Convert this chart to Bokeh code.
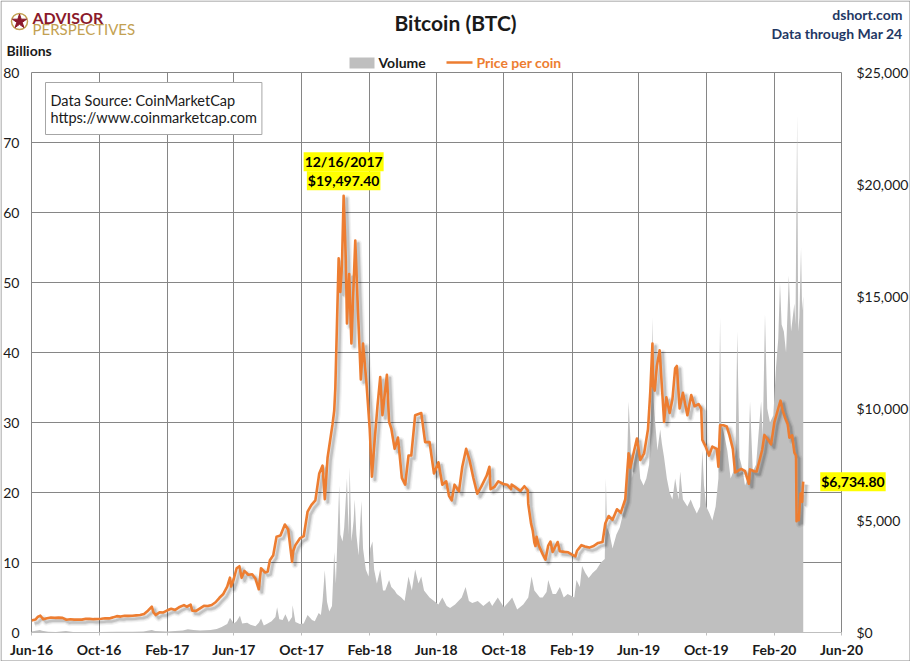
from datetime import timedelta
import pandas as pd
from bokeh.plotting import figure
from bokeh.layouts import column
from bokeh.models import (Range1d, LinearAxis, FixedTicker, NumeralTickFormatter, Label)
from bokeh.embed import file_html
from bokeh.resources import INLINE

# ---------------- data ----------------
price_dates = [
    "2016-06-01", "2016-06-08", "2016-06-12", "2016-06-17", "2016-06-22", "2016-06-29", "2016-07-06",
    "2016-07-13", "2016-07-20", "2016-07-27", "2016-08-03", "2016-08-10", "2016-08-17", "2016-08-24",
    "2016-08-31", "2016-09-07", "2016-09-14", "2016-09-21", "2016-09-28", "2016-10-05", "2016-10-12",
    "2016-10-19", "2016-10-26", "2016-11-02", "2016-11-09", "2016-11-16", "2016-11-23", "2016-11-30",
    "2016-12-07", "2016-12-14", "2016-12-21", "2016-12-28", "2017-01-04", "2017-01-07", "2017-01-11",
    "2017-01-18", "2017-01-25", "2017-02-01", "2017-02-08", "2017-02-15", "2017-02-22", "2017-03-03",
    "2017-03-08", "2017-03-15", "2017-03-18", "2017-03-25", "2017-04-01", "2017-04-08", "2017-04-15",
    "2017-04-22", "2017-04-29", "2017-05-06", "2017-05-13", "2017-05-20", "2017-05-25", "2017-05-27",
    "2017-06-01", "2017-06-06", "2017-06-11", "2017-06-15", "2017-06-20", "2017-06-27", "2017-07-04",
    "2017-07-10", "2017-07-16", "2017-07-20", "2017-07-27", "2017-08-01", "2017-08-05", "2017-08-11",
    "2017-08-17", "2017-08-24", "2017-09-01", "2017-09-07", "2017-09-14", "2017-09-16", "2017-09-20",
    "2017-09-28", "2017-10-05", "2017-10-12", "2017-10-19", "2017-10-26", "2017-11-02", "2017-11-08",
    "2017-11-12", "2017-11-17", "2017-11-26", "2017-11-29", "2017-12-01", "2017-12-07", "2017-12-10",
    "2017-12-13", "2017-12-16", "2017-12-20", "2017-12-22", "2017-12-26", "2017-12-30", "2018-01-06",
    "2018-01-10", "2018-01-16", "2018-01-20", "2018-01-26", "2018-02-01", "2018-02-05", "2018-02-10",
    "2018-02-15", "2018-02-20", "2018-02-24", "2018-03-04", "2018-03-08", "2018-03-12", "2018-03-18",
    "2018-03-24", "2018-03-31", "2018-04-06", "2018-04-12", "2018-04-17", "2018-04-24", "2018-05-05",
    "2018-05-12", "2018-05-20", "2018-05-28", "2018-06-05", "2018-06-12", "2018-06-19", "2018-06-24",
    "2018-06-29", "2018-07-04", "2018-07-12", "2018-07-18", "2018-07-25", "2018-07-31", "2018-08-07",
    "2018-08-14", "2018-08-21", "2018-08-31", "2018-09-05", "2018-09-07", "2018-09-14", "2018-09-21",
    "2018-09-30", "2018-10-07", "2018-10-14", "2018-10-15", "2018-10-21", "2018-10-31", "2018-11-07",
    "2018-11-13", "2018-11-14", "2018-11-19", "2018-11-22", "2018-11-25", "2018-11-27", "2018-11-29",
    "2018-12-03", "2018-12-10", "2018-12-15", "2018-12-20", "2018-12-24", "2018-12-28", "2019-01-06",
    "2019-01-10", "2019-01-18", "2019-01-25", "2019-02-01", "2019-02-07", "2019-02-10", "2019-02-18",
    "2019-02-24", "2019-03-04", "2019-03-12", "2019-03-20", "2019-03-28", "2019-04-02", "2019-04-08",
    "2019-04-15", "2019-04-23", "2019-04-30", "2019-05-08", "2019-05-11", "2019-05-14", "2019-05-17",
    "2019-05-22", "2019-05-29", "2019-06-04", "2019-06-11", "2019-06-18", "2019-06-22", "2019-06-26",
    "2019-06-27", "2019-06-30", "2019-07-04", "2019-07-09", "2019-07-15", "2019-07-17", "2019-07-21",
    "2019-07-27", "2019-08-01", "2019-08-06", "2019-08-09", "2019-08-14", "2019-08-20", "2019-08-28",
    "2019-09-04", "2019-09-10", "2019-09-17", "2019-09-22", "2019-09-24", "2019-09-30", "2019-10-06",
    "2019-10-12", "2019-10-20", "2019-10-23", "2019-10-25", "2019-10-26", "2019-11-01", "2019-11-07",
    "2019-11-12", "2019-11-18", "2019-11-22", "2019-11-26", "2019-12-03", "2019-12-10", "2019-12-17",
    "2019-12-19", "2019-12-26", "2019-12-31", "2020-01-06", "2020-01-10", "2020-01-14", "2020-01-20",
    "2020-01-26", "2020-02-01", "2020-02-09", "2020-02-12", "2020-02-16", "2020-02-20", "2020-02-25",
    "2020-02-28", "2020-03-04", "2020-03-08", "2020-03-11", "2020-03-12", "2020-03-14", "2020-03-16",
    "2020-03-19", "2020-03-20", "2020-03-22", "2020-03-23", "2020-03-24",
]
price_values = [
    536, 580, 690, 750, 595, 640, 670,
    655, 665, 655, 570, 590, 575, 580,
    575, 610, 610, 595, 605, 612, 638,
    630, 675, 730, 710, 745, 740, 745,
    765, 780, 830, 975, 1150, 900, 780,
    900, 895, 990, 1060, 1010, 1125, 1220,
    1150, 1245, 970, 965, 1080, 1190, 1180,
    1230, 1350, 1550, 1720, 2050, 2450, 2050,
    2400, 2870, 2960, 2440, 2750, 2580, 2600,
    2400, 1930, 2870, 2680, 2720, 3230, 3450,
    4280, 4330, 4820, 4600, 3150, 3640, 3900,
    4200, 4300, 5400, 5700, 5900, 7100, 7450,
    5950, 7800, 9300, 9900, 10900, 16700, 15200,
    16400, 19497.4, 16600, 13800, 16000, 12900, 17500,
    14900, 11300, 12900, 11200, 9100, 6955, 8600,
    10100, 11400, 9700, 11500, 9400, 9100, 8200,
    8700, 6900, 6600, 7900, 7900, 9700, 9800,
    8500, 8500, 7100, 7600, 6600, 6750, 6100,
    5900, 6600, 6300, 7400, 8200, 7700, 6900,
    6200, 6500, 7000, 7400, 6400, 6500, 6750,
    6630, 6600, 6400, 6600, 6500, 6320, 6530,
    6350, 5740, 4870, 4560, 4010, 3860, 4270,
    3880, 3500, 3250, 3880, 4060, 3600, 4040,
    3630, 3600, 3580, 3480, 3400, 3650, 3900,
    3840, 3790, 3860, 4000, 4040, 4880, 5200,
    5030, 5500, 5350, 5950, 7000, 8000, 7350,
    7900, 8660, 7700, 8000, 9080, 10700, 12900,
    11000, 10800, 11900, 12600, 10200, 9400, 10500,
    9800, 10400, 11800, 11900, 10000, 10700, 9700,
    10600, 10100, 10200, 10000, 8600, 8300, 7900,
    8300, 8200, 7400, 8700, 9250, 9250, 9200,
    8800, 8200, 7150, 7200, 7300, 7200, 6640,
    7280, 7200, 7190, 7760, 8160, 8820, 8630,
    8400, 9390, 10100, 10350, 9900, 9600, 9300,
    8700, 8800, 8030, 7900, 4970, 5200, 5010,
    6200, 6200, 5830, 6420, 6734.8,
]

vol_dates = [
    "2016-06-01", "2016-06-16", "2016-06-20", "2016-07-01", "2016-07-15", "2016-08-02", "2016-08-15",
    "2016-09-01", "2016-10-01", "2016-11-01", "2016-12-01", "2016-12-20", "2017-01-04", "2017-01-10",
    "2017-02-01", "2017-03-01", "2017-03-10", "2017-03-20", "2017-04-01", "2017-04-20", "2017-05-01",
    "2017-05-10", "2017-05-20", "2017-05-25", "2017-06-01", "2017-06-06", "2017-06-12", "2017-06-16",
    "2017-06-25", "2017-07-01", "2017-07-10", "2017-07-16", "2017-07-20", "2017-07-25", "2017-08-01",
    "2017-08-08", "2017-08-15", "2017-08-18", "2017-08-22", "2017-08-28", "2017-09-02", "2017-09-08",
    "2017-09-14", "2017-09-15", "2017-09-20", "2017-09-28", "2017-10-05", "2017-10-12", "2017-10-20",
    "2017-10-25", "2017-11-01", "2017-11-05", "2017-11-08", "2017-11-12", "2017-11-16", "2017-11-20",
    "2017-11-25", "2017-11-29", "2017-12-02", "2017-12-08", "2017-12-10", "2017-12-14", "2017-12-17",
    "2017-12-22", "2017-12-25", "2017-12-27", "2017-12-30", "2018-01-03", "2018-01-05", "2018-01-08",
    "2018-01-12", "2018-01-17", "2018-01-20", "2018-01-25", "2018-01-30", "2018-02-02", "2018-02-06",
    "2018-02-09", "2018-02-14", "2018-02-20", "2018-02-25", "2018-03-01", "2018-03-08", "2018-03-12",
    "2018-03-18", "2018-03-22", "2018-03-30", "2018-04-05", "2018-04-12", "2018-04-18", "2018-04-24",
    "2018-04-30", "2018-05-05", "2018-05-10", "2018-05-20", "2018-05-28", "2018-06-05", "2018-06-12",
    "2018-06-20", "2018-06-26", "2018-07-05", "2018-07-17", "2018-07-24", "2018-07-30", "2018-08-05",
    "2018-08-15", "2018-08-25", "2018-09-05", "2018-09-10", "2018-09-20", "2018-10-01", "2018-10-11",
    "2018-10-16", "2018-10-25", "2018-11-05", "2018-11-14", "2018-11-20", "2018-11-25", "2018-11-30",
    "2018-12-05", "2018-12-10", "2018-12-17", "2018-12-20", "2018-12-28", "2019-01-03", "2019-01-10",
    "2019-01-17", "2019-01-24", "2019-01-31", "2019-02-05", "2019-02-09", "2019-02-15", "2019-02-19",
    "2019-02-25", "2019-03-03", "2019-03-10", "2019-03-17", "2019-03-25", "2019-04-01", "2019-04-03",
    "2019-04-05", "2019-04-10", "2019-04-15", "2019-04-22", "2019-04-28", "2019-05-04", "2019-05-10",
    "2019-05-14", "2019-05-17", "2019-05-20", "2019-05-25", "2019-05-30", "2019-06-04", "2019-06-10",
    "2019-06-15", "2019-06-20", "2019-06-23", "2019-06-26", "2019-06-28", "2019-07-01", "2019-07-05",
    "2019-07-10", "2019-07-13", "2019-07-17", "2019-07-22", "2019-07-27", "2019-08-01", "2019-08-06",
    "2019-08-12", "2019-08-15", "2019-08-20", "2019-08-28", "2019-09-03", "2019-09-08", "2019-09-14",
    "2019-09-20", "2019-09-24", "2019-09-27", "2019-10-01", "2019-10-07", "2019-10-12", "2019-10-18",
    "2019-10-23", "2019-10-26", "2019-10-28", "2019-11-03", "2019-11-08", "2019-11-14", "2019-11-19",
    "2019-11-23", "2019-11-26", "2019-11-30", "2019-12-05", "2019-12-10", "2019-12-15", "2019-12-19",
    "2019-12-24", "2019-12-30", "2020-01-03", "2020-01-08", "2020-01-11", "2020-01-15", "2020-01-19",
    "2020-01-24", "2020-01-30", "2020-02-04", "2020-02-08", "2020-02-11", "2020-02-14", "2020-02-18",
    "2020-02-22", "2020-02-27", "2020-03-02", "2020-03-08", "2020-03-10", "2020-03-13", "2020-03-15",
    "2020-03-17", "2020-03-20", "2020-03-22", "2020-03-24",
]
vol_values = [
    0.15, 0.35, 0.25, 0.10, 0.08, 0.20, 0.07,
    0.07, 0.06, 0.10, 0.10, 0.15, 0.35, 0.20,
    0.15, 0.30, 0.45, 0.35, 0.30, 0.35, 0.50,
    0.80, 1.2, 2.1, 1.3, 1.6, 2.4, 1.3,
    1.4, 1.1, 0.9, 1.4, 2.0, 1.0, 1.3,
    1.6, 2.2, 3.6, 1.9, 1.8, 2.6, 1.5,
    2.2, 3.9, 1.5, 1.2, 1.3, 2.5, 1.8,
    1.6, 2.8, 2.5, 4.5, 8.9, 4.4, 3.0,
    3.8, 11.5, 7.0, 21.0, 14.0, 13.0, 15.0,
    22.0, 14.0, 23.6, 13.0, 16.0, 19.0, 14.0,
    11.0, 18.8, 12.0, 9.0, 8.0, 12.0, 13.0,
    9.0, 7.0, 9.0, 6.0, 6.0, 7.5, 6.5,
    6.0, 5.5, 5.0, 4.5, 8.0, 6.0, 9.0,
    7.0, 8.0, 6.0, 5.0, 4.5, 4.0, 5.0,
    3.8, 3.5, 4.0, 5.0, 6.5, 4.5, 4.2,
    4.5, 3.8, 4.5, 3.8, 5.0, 3.6, 4.5,
    5.0, 3.3, 4.0, 5.0, 8.0, 6.0, 5.5,
    5.0, 5.0, 5.8, 7.5, 5.5, 5.5, 6.5,
    5.0, 5.5, 5.2, 5.0, 7.5, 6.5, 9.5,
    8.5, 7.8, 8.5, 9.0, 10.0, 10.5, 22.0,
    15.0, 14.0, 12.0, 14.0, 15.0, 17.0, 20.0,
    33.0, 28.0, 22.0, 25.0, 27.0, 22.0, 21.0,
    22.0, 24.0, 30.0, 45.0, 33.0, 30.0, 26.0,
    29.0, 27.0, 25.0, 22.0, 20.0, 19.0, 22.0,
    19.0, 23.0, 19.0, 18.0, 19.0, 18.0, 17.0,
    18.0, 26.0, 21.0, 18.0, 17.0, 16.0, 18.0,
    22.0, 45.0, 30.0, 28.0, 26.0, 22.0, 23.0,
    26.0, 43.0, 25.0, 23.5, 21.0, 22.0, 33.0,
    23.0, 24.0, 28.0, 33.0, 28.0, 45.5, 32.0,
    30.0, 31.0, 38.0, 42.0, 50.0, 44.0, 43.0,
    40.0, 51.0, 43.0, 47.0, 44.0, 74.0, 43.0,
    45.0, 55.0, 46.0, 48.0,
]

tick_dates = ["2016-06-01", "2016-10-01", "2017-02-01", "2017-06-01", "2017-10-01", "2018-02-01",
              "2018-06-01", "2018-10-01", "2019-02-01", "2019-06-01", "2019-10-01", "2020-02-01",
              "2020-06-01"]
tick_labels = ["Jun-16", "Oct-16", "Feb-17", "Jun-17", "Oct-17", "Feb-18", "Jun-18", "Oct-18",
               "Feb-19", "Jun-19", "Oct-19", "Feb-20", "Jun-20"]
vol_ticks = [0, 10, 20, 30, 40, 50, 60, 70, 80]
price_ticks = [0, 5000, 10000, 15000, 20000, 25000]

peak_date, peak_price = "2017-12-16", 19497.40
peak_label = "12/16/2017"
series_names = ["Volume", "Price per coin"]

# ---------------- geometry (figure pixels) ----------------
FONT = "Lato"
GRID = "#868686"
VOL_COLOR = "#BFBFBF"
PRICE_COLOR = "#ED7D31"
FIG_W, FIG_H = 910, 661
FR_L, FR_T, FR_W, FR_H = 30, 72, 810, 560
FR_R = FIG_W - FR_L - FR_W
FR_B = FIG_H - FR_T - FR_H

px_dates = pd.to_datetime(price_dates)
vx_dates = pd.to_datetime(vol_dates)
t_dates = pd.to_datetime(tick_dates)
x0, x1 = t_dates[0], t_dates[-1]
pmax = price_ticks[-1]

# ---------------- main figure ----------------
p = figure(frame_width=FR_W, frame_height=FR_H, output_backend="svg", toolbar_location=None,
           x_axis_type="datetime", x_range=Range1d(x0, x1), y_range=Range1d(0, vol_ticks[-1]),
           min_border_left=FR_L, min_border_right=FR_R, min_border_top=FR_T,
           min_border_bottom=FR_B)
p.frame_align = False
p.background_fill_color = "white"
p.border_fill_color = "white"
p.outline_line_color = GRID

# shadow ranges (shift ~3px right / down)
day_px = FR_W / (x1 - x0).days
dx = timedelta(days=3 / day_px)
dy = 3 * pmax / FR_H
p.extra_y_ranges = {"price": Range1d(0, pmax), "shadow": Range1d(dy, pmax + dy)}
p.extra_x_ranges = {"shadow": Range1d(x0 - dx, x1 - dx)}

p.varea(x=vx_dates, y1=0, y2=vol_values, fill_color=VOL_COLOR)
for w, a in [(7, 0.05), (4.5, 0.08), (2.5, 0.13)]:
    p.line(px_dates, price_values, x_range_name="shadow", y_range_name="shadow",
           line_color="black", line_alpha=a, line_width=w, line_join="round")
p.line(px_dates, price_values, y_range_name="price", line_color=PRICE_COLOR,
       line_width=2.6, line_join="round")

xa = p.xaxis[0]
tick_ms = [int(t.value // 10**6) for t in t_dates]
xa.ticker = FixedTicker(ticks=tick_ms)
xa.major_label_overrides = {ms: lab for ms, lab in zip(tick_ms, tick_labels)}
xa.major_tick_out = 3
xa.major_tick_in = 0
xa.minor_tick_out = 0
xa.minor_tick_in = 0
xa.axis_line_color = VOL_COLOR
xa.major_tick_line_color = VOL_COLOR
xa.major_label_standoff = 5
xa.major_label_text_font = FONT
xa.major_label_text_font_style = "bold"
xa.major_label_text_font_size = "14px"
xa.major_label_text_color = "#1a1a1a"

ya = p.yaxis[0]
ya.ticker = FixedTicker(ticks=vol_ticks)
ya.axis_line_color = None
ya.major_tick_line_color = None
ya.minor_tick_line_color = None
ya.major_tick_out = 0
ya.major_tick_in = 0
ya.minor_tick_out = 0
ya.minor_tick_in = 0
ya.major_label_standoff = 12
ya.major_label_text_font = FONT
ya.major_label_text_font_size = "14px"
ya.major_label_text_color = "#1a1a1a"

ra = LinearAxis(y_range_name="price", ticker=FixedTicker(ticks=price_ticks),
                formatter=NumeralTickFormatter(format="$0,0"))
ra.axis_line_color = None
ra.major_tick_line_color = None
ra.minor_tick_line_color = None
ra.major_tick_out = 0
ra.major_tick_in = 0
ra.minor_tick_out = 0
ra.minor_tick_in = 0
ra.major_label_standoff = 15
ra.major_label_text_font = FONT
ra.major_label_text_font_size = "14px"
ra.major_label_text_color = "#1a1a1a"
p.add_layout(ra, "right")

p.xgrid.ticker = FixedTicker(ticks=tick_ms)
p.xgrid.grid_line_color = GRID
p.ygrid.grid_line_color = GRID

# data source box (frame-relative screen units) with soft shadow
src_text = "Data Source: CoinMarketCap\nhttps://www.coinmarketcap.com"
box_kw = dict(x_units="screen", y_units="screen", text=src_text, text_font=FONT,
              text_font_size="14.5px", text_baseline="top", text_line_height=1.0,
              padding=(5, 9))
for off, col, alpha in [(4, "#B0B0B0", 0.3), (2, "#A0A0A0", 0.35)]:
    p.add_layout(Label(x=14 + off, y=FR_H - 10 - off, text_alpha=0,
                       background_fill_color=col, background_fill_alpha=alpha, **box_kw))
p.add_layout(Label(x=14, y=FR_H - 10, text_color="#1a1a1a", background_fill_color="white",
                   border_line_color="#A6A6A6", **box_kw))

# peak annotation
for txt, off in [(peak_label, 34), ("${:,.2f}".format(peak_price), 15)]:
    p.add_layout(Label(x=pd.Timestamp(peak_date), y=peak_price, y_range_name="price",
                       text=txt, y_offset=off, text_align="center", text_baseline="middle",
                       text_font=FONT, text_font_size="14px", text_font_style="bold",
                       text_color="black", background_fill_color="#FFFF00", padding=1))

# ---------------- overlay figure for texts outside the plot frame ----------------
ov = figure(width=FIG_W, height=FIG_H, output_backend="svg", toolbar_location=None,
            x_range=Range1d(0, FIG_W), y_range=Range1d(FIG_H, 0),
            x_axis_location=None, y_axis_location=None, min_border=0)
ov.frame_align = False
ov.grid.visible = False
ov.outline_line_color = None
ov.background_fill_alpha = 0
ov.border_fill_alpha = 0
ov.margin = (-FIG_H, 0, 0, 0)

# ranges on the overlay that coincide with the main figure's scales
ms_px = (x1 - x0) / FR_W
pr_px = pmax / FR_H
ov.extra_x_ranges = {"date": Range1d(x0 - FR_L * ms_px, x1 + FR_R * ms_px)}
ov.extra_y_ranges = {"price": Range1d(-FR_B * pr_px, pmax + FR_T * pr_px)}


def olab(text, X, Y, size="14px", style="normal", color="#1a1a1a", align="left", **kw):
    ov.add_layout(Label(x=X, y=Y, text=text, text_font=FONT, text_font_size=size,
                        text_font_style=style, text_color=color, text_align=align,
                        text_baseline="middle", **kw))


# outer border of the picture
ov.quad(left=0.5, right=FIG_W - 0.5, top=0.5, bottom=FIG_H - 0.5, fill_alpha=0,
        line_color="#8C8C8C", line_width=1)

olab("Bitcoin (BTC)", 455, 22, size="21px", style="bold", align="center")
olab("dshort.com", 902, 14, style="bold", color="#1F3864", align="right")
olab("Data through Mar 24", 902, 33, style="bold", color="#1F3864", align="right")

# logo
ov.scatter(x=19, y=21, marker="circle", size=16, fill_alpha=0, line_color="#C3A152",
           line_width=1.5)
ov.scatter(x=19, y=21, marker="star", size=15, fill_color="#8B1A2B", line_color="#8B1A2B")
olab("ADVISOR", 32, 17, size="16px", style="bold", color="#8B1A2B")
olab("PERSPECTIVES", 32, 28, size="15px", color="#C3A152")
olab("Billions", 6, 50, size="14px", style="bold")

# last price label, placed through the price scale
ov.add_layout(Label(x=px_dates[-1], y=price_values[-1], x_range_name="date",
                    y_range_name="price", x_offset=18, text="${:,.2f}".format(price_values[-1]),
                    text_font=FONT, text_font_size="14px", text_font_style="bold",
                    text_color="black", text_baseline="middle",
                    background_fill_color="#FFFF00", padding=1))

# legend
ov.quad(left=349, right=374, top=57, bottom=68, fill_color=VOL_COLOR, line_color=None)
olab(series_names[0], 378, 62, style="bold", color="#1a1a1a")
ov.segment(x0=446, y0=62, x1=472, y1=62, line_color=PRICE_COLOR, line_width=2.6)
olab(series_names[1], 476, 62, style="bold", color=PRICE_COLOR)

layout = column(p, ov, spacing=0)
open("out.html", "w").write(file_html(layout, INLINE))
